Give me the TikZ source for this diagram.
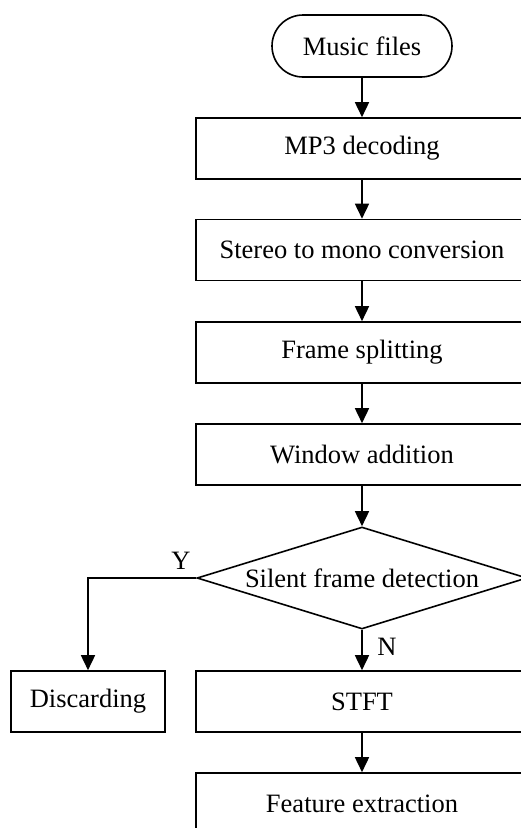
\documentclass[tikz,border=0pt]{standalone}
\usepackage{fontspec}
\setmainfont{Liberation Serif}
\usetikzlibrary{arrows.meta,shapes.geometric}
\begin{document}
\begin{tikzpicture}[x=1pt,y=-1pt,
  every node/.style={font=\fontsize{26.5}{31}\selectfont},
  box/.style={draw,line width=1.6pt,minimum width=332pt,minimum height=61pt,inner sep=0pt},
  term/.style={draw,line width=1.6pt,rounded corners=31pt,minimum width=180pt,minimum height=62pt,inner sep=0pt},
  dec/.style={draw,line width=1.6pt,diamond,shape aspect=3.24,minimum width=330pt,minimum height=102pt,inner sep=0pt},
  arr/.style={line width=1.6pt,-{Triangle[length=15pt,width=14pt]}},
  lbl/.style={inner sep=0pt}]
\useasboundingbox (0,0) rectangle (521,828);
\clip (0,0) rectangle (521,828);
\node[term] (music) at (362,46) {Music files};
\node[box] (mp3) at (362,148.5) {MP3 decoding};
\node[box] (stereo) at (362,250) {Stereo to mono conversion};
\node[box] (frame) at (362,352.5) {Frame splitting};
\node[box] (window) at (362,454.5) {Window addition};
\node[dec] (silent) at (362,578) {Silent frame detection};
\node[box,minimum width=154pt] (disc) at (88,701.5) {Discarding};
\node[box] (stft) at (362,701.5) {STFT};
\node[box] (feat) at (362,803.5) {Feature extraction};
\draw[arr] (music) -- (mp3);
\draw[arr] (mp3) -- (stereo);
\draw[arr] (stereo) -- (frame);
\draw[arr] (frame) -- (window);
\draw[arr] (window) -- (silent);
\draw[arr] (silent.west) -| (disc.north);
\draw[arr] (silent.south) -- (stft.north);
\draw[arr] (stft) -- (feat);
\node[lbl] (ylab) at (181,561) {Y};
\node[lbl] (nlab) at (387,647) {N};
\end{tikzpicture}
\end{document}
